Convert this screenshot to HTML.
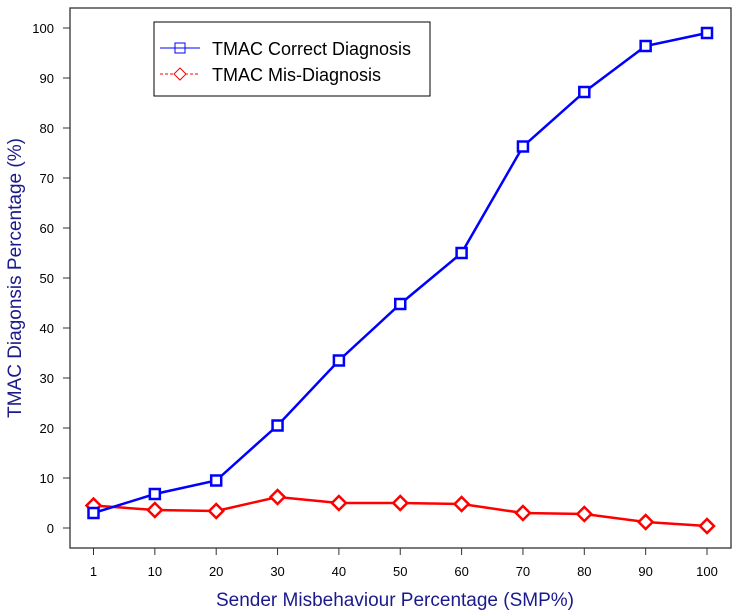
<!DOCTYPE html>
<html><head><meta charset="utf-8"><style>body{margin:0;background:#fff}svg{display:block;font-family:"Liberation Sans",sans-serif}</style></head>
<body>
<svg id="chart" width="738" height="616" xmlns="http://www.w3.org/2000/svg">
<rect x="70" y="8" width="661" height="540" fill="none" stroke="#333" stroke-width="1.3"/>
<g id="ticks"></g>
<g id="series"></g>
<text x="395" y="606" text-anchor="middle" font-size="19" fill="#1a1a8c">Sender Misbehaviour Percentage (SMP%)</text>
<text transform="translate(21,278) rotate(-90)" text-anchor="middle" font-size="19" fill="#1a1a8c">TMAC Diagonsis Percentage (%)</text>
<g>
<rect x="154" y="22" width="276" height="74" fill="#fff" stroke="#000" stroke-width="1"/>
<g>
<line x1="160" y1="48" x2="200" y2="48" stroke="blue" stroke-width="1"/>
<rect x="175" y="43" width="10" height="10" fill="none" stroke="blue" stroke-width="1"/>
<text x="212" y="55" font-size="18" fill="#000">TMAC Correct Diagnosis</text></g>
<g>
<line x1="160" y1="74" x2="200" y2="74" stroke="red" stroke-width="1" stroke-dasharray="3,2"/>
<path d="M180 68 L186 74 L180 80 L174 74 Z" fill="#fff" stroke="red" stroke-width="1"/>
<text x="212" y="81" font-size="18" fill="#000">TMAC Mis-Diagnosis</text></g>
</g>
</svg>
<script>
const categories=["1","10","20","30","40","50","60","70","80","90","100"];
const correctValues=[3,6.8,9.5,20.5,33.5,44.8,55,76.3,87.2,96.4,99];
const misValues=[4.5,3.6,3.4,6.2,5,5,4.8,3,2.8,1.2,0.4];
const yTicks=[0,10,20,30,40,50,60,70,80,90,100];
const NS="http://www.w3.org/2000/svg";
const xs=i=>93.5+i*61.35;
const ys=v=>528-v*5;
function mk(t,a,p){const e=document.createElementNS(NS,t);for(const k in a)e.setAttribute(k,a[k]);p.appendChild(e);return e;}
const tg=document.getElementById('ticks');
yTicks.forEach(v=>{
 const l=mk('line',{x1:63,x2:70,y1:ys(v),y2:ys(v),stroke:'#333'},tg);
 
 
 const t=mk('text',{x:54,y:ys(v)+5,'text-anchor':'end','font-size':13,fill:'#000'},tg);t.textContent=v;
 
 
});
categories.forEach((c,i)=>{
 const l=mk('line',{x1:xs(i),x2:xs(i),y1:548,y2:555,stroke:'#333'},tg);
 
 
 const t=mk('text',{x:xs(i),y:576,'text-anchor':'middle','font-size':13,fill:'#000'},tg);t.textContent=c;
 
 
});
const sg=document.getElementById('series');
function series(vals,color,name,marker){
 const pl=mk('polyline',{points:vals.map((v,i)=>xs(i)+','+ys(v)).join(' '),fill:'none',stroke:color,'stroke-width':2.5},sg);
 
 
 vals.forEach((v,i)=>{
  const x=xs(i),y=ys(v);let m;
  if(marker==='sq')m=mk('rect',{x:x-5,y:y-5,width:10,height:10,fill:'#fff',stroke:color,'stroke-width':2.5},sg);
  else m=mk('path',{d:`M${x} ${y-7}L${x+7} ${y}L${x} ${y+7}L${x-7} ${y}Z`,fill:'#fff',stroke:color,'stroke-width':2.5},sg);
  
  
 });
}
series(misValues,'red','misdiagnosis','dia');
series(correctValues,'blue','correct-diagnosis','sq');
</script>
</body></html>
